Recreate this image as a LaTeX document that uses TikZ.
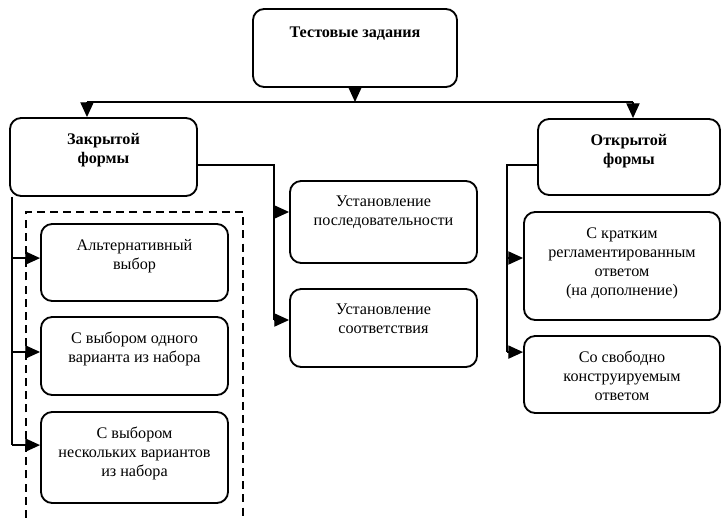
\documentclass[tikz,border=0pt]{standalone}
\usepackage{fontspec}
\setmainfont{Liberation Serif}
\usetikzlibrary{arrows.meta,positioning}

\tikzset{
	box/.style={draw, line width=1.3pt, rounded corners=0.28cm},
	txt/.style={align=center, inner sep=0pt, font=\fontsize{11.5}{13.5}\selectfont, execute at begin node=\strut},
	title/.style={txt, font=\fontsize{11.5}{13.5}\selectfont\bfseries},
	line/.style={line width=1pt},
	arr/.style={line width=1pt, -{Triangle[length=0.37cm,width=0.33cm]}},
}

\begin{document}
\begin{tikzpicture}[x=0.025cm, y=-0.025cm]
	\useasboundingbox (0,0) rectangle (722,518);
	
	% boxes
	\node[box, minimum width=5.1cm, minimum height=1.95cm] (test) at (355,48) {};
	\node[box, minimum width=4.675cm, minimum height=1.95cm] (closed) at (103.5,157) {};
	\node[box, minimum width=4.55cm, minimum height=1.9cm] (open) at (629,157) {};
	
	\node[box, minimum width=4.675cm, minimum height=2.05cm] (seq) at (383.5,222) {};
	\node[box, minimum width=4.675cm, minimum height=1.95cm] (match) at (383.5,328) {};
	
	\node[box, minimum width=4.675cm, minimum height=1.925cm] (alt) at (134.5,262.5) {};
	\node[box, minimum width=4.675cm, minimum height=1.95cm] (one) at (134.5,356) {};
	\node[box, minimum width=4.675cm, minimum height=2.275cm] (several) at (134.5,457.5) {};
	
	\node[box, minimum width=4.9cm, minimum height=2.7cm] (short) at (622,266) {};
	\node[box, minimum width=4.9cm, minimum height=1.925cm] (free) at (622,374.5) {};
	
	% texts
	\node[title, below=0.4cm of test.north] (testT) {Тестовые задания};
	\node[title, below=0.4cm of closed.north] (closedT) {Закрытой\\формы};
	\node[title, below=0.4cm of open.north] (openT) {Открытой\\формы};
	\node[txt, below=0.4cm of seq.north] (seqT) {Установление\\последовательности};
	\node[txt, below=0.4cm of match.north] (matchT) {Установление\\соответствия};
	\node[txt, below=0.4cm of alt.north] (altT) {Альтернативный\\выбор};
	\node[txt, below=0.4cm of one.north] (oneT) {С выбором одного\\варианта из набора};
	\node[txt, below=0.4cm of several.north] (severalT) {С выбором\\нескольких вариантов\\из набора};
	\node[txt, below=0.4cm of short.north] (shortT) {С кратким\\регламентированным\\ответом\\(на дополнение)};
	\node[txt, below=0.4cm of free.north] (freeT) {Со свободно\\конструируемым\\ответом};
	
	% dashed frame
	\draw[line, dash pattern=on 0.2cm off 0.13cm] (26,518) -- (26,212) -- (243,212) -- (243,518);
	
	% connectors
	\coordinate (barL) at (87,102);
	\coordinate (barR) at (633,102);
	\draw[line] (barL) -- (barR);
	\draw[arr] (test.south) -- (test.south |- barL);
	\draw[arr] (barL) -- (barL |- closed.north);
	\draw[arr] (barR) -- (barR |- open.north);
	
	\coordinate (k) at (274,165);
	\coordinate (sqIn) at ([yshift=0.25cm]seq.west);
	\coordinate (mIn) at ([yshift=0.2cm]match.west);
	\draw[line] (closed.east |- k) -- (k) -- (k |- mIn);
	\draw[arr] (k |- sqIn) -- (sqIn);
	\draw[arr] (k |- mIn) -- (mIn);
	
	\coordinate (t) at (12,0);
	\coordinate (aIn) at ([yshift=0.11cm]alt.west);
	\coordinate (oIn) at ([yshift=0.1cm]one.west);
	\coordinate (nIn) at ([yshift=0.31cm]several.west);
	\draw[line] (t |- closed.south) -- (t |- nIn);
	\draw[arr] (t |- aIn) -- (aIn);
	\draw[arr] (t |- oIn) -- (oIn);
	\draw[arr] (t |- nIn) -- (nIn);
	
	\coordinate (r) at (507,165);
	\coordinate (sIn) at ([yshift=0.2cm]short.west);
	\coordinate (fIn) at ([yshift=0.56cm]free.west);
	\draw[line] (open.west |- r) -- (r) -- (r |- fIn);
	\draw[arr] (r |- sIn) -- (sIn);
	\draw[arr] (r |- fIn) -- (fIn);
\end{tikzpicture}
\end{document}
